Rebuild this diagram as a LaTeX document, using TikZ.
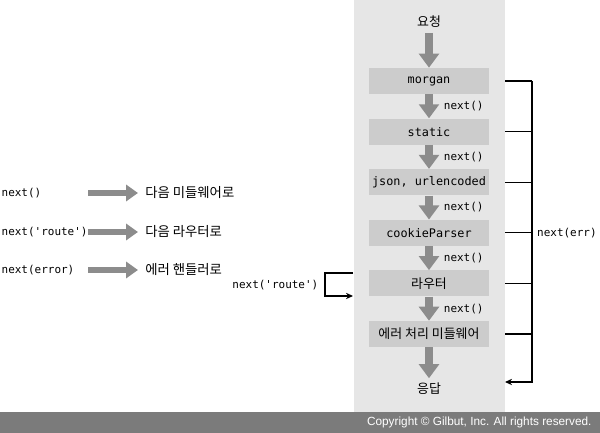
\documentclass[tikz,border=0pt]{standalone}
\usepackage{fontspec}
\setmonofont{DejaVu Sans Mono}
\newfontfamily\kor{Noto Sans CJK KR}
\newfontfamily\copyfont{Liberation Sans}
\usetikzlibrary{positioning, arrows.meta}
\definecolor{panelgray}{HTML}{E6E6E6}
\definecolor{boxgray}{HTML}{CCCCCC}
\definecolor{flowgray}{HTML}{8C8C8C}
\definecolor{bargray}{HTML}{7B7B7B}
\tikzset{
  mw/.style={fill=boxgray, minimum width=3cm, minimum height=0.65cm, inner sep=0pt, font=\ttfamily\fontsize{8.4}{10}\selectfont},
  hangul/.style={font=\kor\fontsize{9.2}{11}\selectfont},
  bighangul/.style={font=\kor\fontsize{9.5}{11}\selectfont, inner sep=0pt},
  code/.style={font=\ttfamily\fontsize{7.8}{9}\selectfont, inner sep=1pt},
  nxt/.style={code, xshift=6.8pt},
  flow/.style={draw=flowgray, line width=5.6pt, -{Triangle[length=10pt,width=14pt]}},
  legflow/.style={draw=flowgray, line width=4.3pt, -{Triangle[length=8.5pt,width=11.5pt]}, shorten >=5pt},
  wire/.style={line width=0.8pt},
  jump/.style={line width=0.8pt, -{Stealth[length=5pt,width=4.5pt]}}
}
\begin{document}
\begin{tikzpicture}[x=0.025cm, y=0.025cm, node distance=1.265cm, on grid, auto]
    \useasboundingbox (0,0) rectangle (600,433);
    \fill[bargray] (0,0) rectangle (600,21);
    \node[anchor=east, text=white, font=\copyfont\fontsize{8.4}{10}\selectfont] (copy) at (596.5,10.5) {Copyright © Gilbut, Inc. All rights reserved.};
    \node[fill=panelgray, minimum width=3.775cm, minimum height=10.3cm, inner sep=0pt] (panel) at (429.5,227) {};

    \node[hangul] (req) at (429,411) {요청};
    \node[mw] (morgan) at (429,352) {morgan};
    \node[mw] (static) [below = of morgan] {static};
    \node[mw] (body) [below = of static] {json, urlencoded};
    \node[mw] (cookie) [below = of body] {cookieParser};
    \node[mw, hangul] (router) [below = of cookie] {라우터};
    \node[mw, hangul] (errmw) [below = of router] {에러 처리 미들웨어};
    \node[hangul] (res) [below = of errmw, yshift=-0.11cm] {응답};
    \path
    (req) edge[flow] (morgan)
    (morgan) edge[flow] node[nxt] {next()} (static)
    (static) edge[flow] node[nxt] {next()} (body)
    (body) edge[flow] node[nxt] {next()} (cookie)
    (cookie) edge[flow] node[nxt] {next()} (router)
    (router) edge[flow] node[nxt] {next()} (errmw)
    (errmw) edge[flow] (res)
    ;

    % error bus on the right
    \coordinate (bus) at (532,352);
    \coordinate (errin) at (505,51);
    \foreach \m in {morgan, static, body, cookie, router, errmw}
      \draw[wire] (panel.east |- \m) -- (bus |- \m);
    \draw[jump] (bus) |- (errin);
    \node[code, anchor=west, xshift=2.5pt] (errlbl) at (bus |- cookie) {next(err)};

    % skip to the next router
    \coordinate (rtout) at (353,160);
    \coordinate (rtin) at (353,137);
    \draw[jump] (rtout) -- ++(-28,0) |- (rtin);
    \node[code, anchor=east] (rtlbl) at (320,148) {next('route')};

    % legend
    \node[code, anchor=west] (l1) at (0,240) {next()};
    \node[code, anchor=west] (l2) at (0,201) {next('route')};
    \node[code, anchor=west] (l3) at (0,163) {next(error)};
    \node[bighangul, anchor=west] (d1) at (145,240) {다음 미들웨어로};
    \node[bighangul, anchor=west] (d2) at (145,201) {다음 라우터로};
    \node[bighangul, anchor=west] (d3) at (145,163) {에러 핸들러로};
    \foreach \i/\y in {1/240, 2/201, 3/163}
      \coordinate (s\i) at (88,\y);
    \path
    (s1) edge[legflow] (d1)
    (s2) edge[legflow] (d2)
    (s3) edge[legflow] (d3)
    ;
\end{tikzpicture}
\end{document}
